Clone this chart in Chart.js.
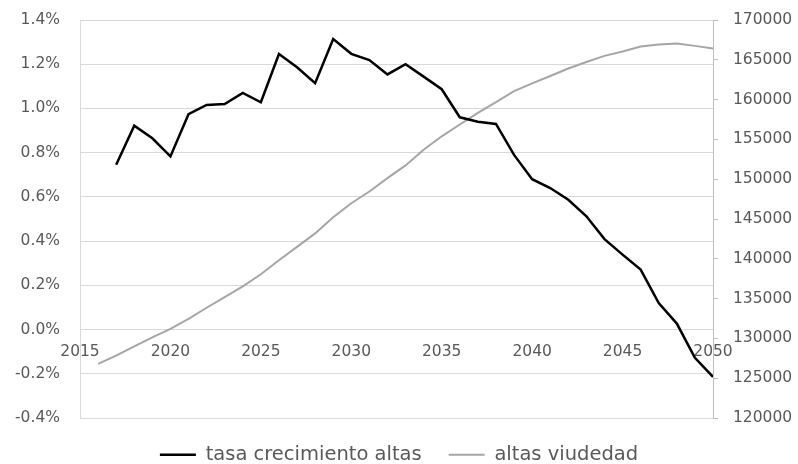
<!DOCTYPE html>
<html>
<head>
<meta charset="utf-8">
<script src="https://cdn.jsdelivr.net/npm/chart.js"></script>
<style>
  body { margin: 0; background: #fff; }
  #wrap { width: 798px; height: 464px; }
</style>
</head>
<body>
<div id="wrap"><canvas id="myChart"></canvas></div>
<script>
    // years on the x axis
    const years = [2016, 2017, 2018, 2019, 2020, 2021, 2022, 2023, 2024, 2025,
        2026, 2027, 2028, 2029, 2030, 2031, 2032, 2033, 2034, 2035,
        2036, 2037, 2038, 2039, 2040, 2041, 2042, 2043, 2044, 2045,
        2046, 2047, 2048, 2049, 2050];

    // growth rate in percent (left axis), no value for 2016
    const tasaCrecimiento = [null, 0.745, 0.922, 0.865, 0.783, 0.974, 1.016, 1.020, 1.070, 1.028,
        1.246, 1.186, 1.114, 1.314, 1.247, 1.219, 1.154, 1.200, 1.144, 1.087,
        0.960, 0.940, 0.930, 0.790, 0.680, 0.640, 0.587, 0.512, 0.409, 0.339,
        0.271, 0.120, 0.027, -0.128, -0.214];

    // number of widowhood registrations (right axis)
    const altasViudedad = [126800, 127830, 129000, 130140, 131200, 132460, 133850, 135190, 136540, 138060,
        139820, 141500, 143190, 145210, 146980, 148450, 150140, 151730, 153710, 155390,
        156870, 158340, 159680, 161070, 162040, 162970, 163900, 164730, 165490, 166050,
        166680, 166930, 167060, 166750, 166430];

    const seriesNames = ['tasa crecimiento altas', 'altas viudedad'];

    const tickFont = { family: 'DejaVu Sans', size: 15.5 };
    const tickColor = '#595959';

    var ctx = document.getElementById('myChart').getContext('2d');

    var myChart = new Chart(ctx, {
        type: 'line',
        data: {
            datasets: [{
                label: seriesNames[0],
                data: years.map((yr, i) => ({ x: yr, y: tasaCrecimiento[i] })),
                yAxisID: 'y',
                borderColor: '#000000',
                backgroundColor: '#000000',
                borderWidth: 2.5,
                pointRadius: 0,
                tension: 0
            }, {
                label: seriesNames[1],
                data: years.map((yr, i) => ({ x: yr, y: altasViudedad[i] })),
                yAxisID: 'y1',
                borderColor: '#a6a6a6',
                backgroundColor: '#a6a6a6',
                borderWidth: 2,
                pointRadius: 0,
                tension: 0
            }]
        },
        options: {
            responsive: true,
            maintainAspectRatio: false,
            animation: false,
            layout: { padding: { top: 20, left: 0, right: 0, bottom: 0 } },
            plugins: {
                tooltip: { enabled: false },
                legend: {
                    position: 'bottom',
                    maxHeight: 46,
                    labels: {
                        usePointStyle: true,
                        pointStyle: 'line',
                        pointStyleWidth: 36,
                        padding: 27,
                        color: tickColor,
                        font: { family: 'DejaVu Sans', size: 19.5 }
                    }
                }
            },
            scales: {
                x: {
                    type: 'linear',
                    position: { y: 0 },
                    min: 2015,
                    max: 2050,
                    grid: { display: false },
                    border: { display: false },
                    ticks: {
                        stepSize: 5,
                        padding: 5,
                        color: tickColor,
                        font: tickFont,
                        maxRotation: 0,
                        callback: v => String(v)
                    },
                    // the axis sits on the 0% line, so it should not take room from the plot
                    afterFit: s => { s.height = 0; }
                },
                y: {
                    position: 'left',
                    min: -0.4,
                    max: 1.4,
                    // invisible 20px ticks keep the labels away from the plot
                    grid: { color: '#d9d9d9', lineWidth: 1, tickLength: 20, tickColor: 'rgba(0,0,0,0)' },
                    border: { color: '#d9d9d9' },
                    ticks: {
                        stepSize: 0.2,
                        padding: 0,
                        color: tickColor,
                        font: tickFont,
                        callback: v => (Math.abs(v) < 1e-9 ? 0 : v).toFixed(1) + '%'
                    },
                    afterFit: s => { s.width = 80; }
                },
                y1: {
                    position: 'right',
                    min: 120000,
                    max: 170000,
                    // only the first 4px of each tick is visible
                    grid: { drawOnChartArea: false, color: '#bfbfbf', tickLength: 20, tickBorderDash: [4, 60] },
                    border: { color: '#bfbfbf' },
                    ticks: {
                        stepSize: 5000,
                        padding: 0,
                        color: tickColor,
                        font: tickFont,
                        callback: v => String(v)
                    },
                    afterFit: s => { s.width = 85; }
                }
            }
        }
    });
</script>
</body>
</html>
